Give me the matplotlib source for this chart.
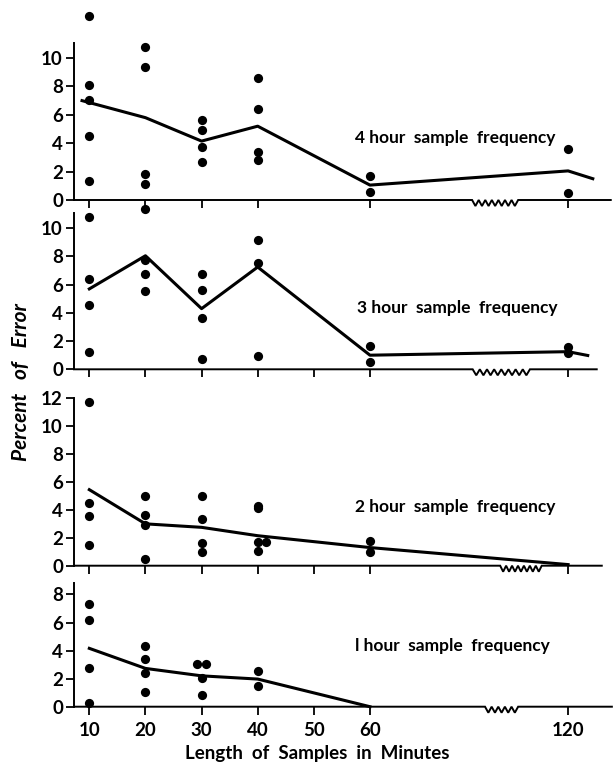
import matplotlib
matplotlib.use("Agg")
import matplotlib.pyplot as plt
import matplotlib.transforms as mtransforms
import numpy as np

plt.rcParams['font.family'] = ['Lato', 'DejaVu Sans']

# position of the 120 min column on the broken axis
POS_120 = 95.3


def to_pos(x):
    x = np.asarray(x, dtype=float)
    return np.where(x <= 60, x, POS_120 + (x - 120))


# 4 hour sample frequency
h4_x = [10, 10, 10, 10, 10, 20, 20, 20, 20, 30, 30, 30, 30, 40, 40, 40, 40, 60, 60, 120, 120]
h4_y = [12.96, 8.1, 7.05, 4.5, 1.35, 10.75, 9.35, 1.8, 1.1, 5.65, 4.95, 3.7, 2.65,
        8.6, 6.4, 3.35, 2.85, 1.7, 0.58, 3.62, 0.47]
h4_line_x = [8.7, 20, 30, 40, 60, 120, 124.4]
h4_line_y = [7.0, 5.8, 4.15, 5.2, 1.05, 2.05, 1.5]

# 3 hour sample frequency
h3_x = [10, 10, 10, 10, 20, 20, 20, 20, 30, 30, 30, 30, 40, 40, 40, 60, 60, 120, 120]
h3_y = [10.8, 6.4, 4.55, 1.2, 11.4, 7.75, 6.75, 5.55, 6.75, 5.6, 3.65, 0.75,
        9.2, 7.55, 0.97, 1.68, 0.5, 1.58, 1.15]
h3_line_x = [10, 20, 30, 40, 60, 120, 123.5]
h3_line_y = [5.7, 8.05, 4.3, 7.25, 1.0, 1.25, 0.98]

# 2 hour sample frequency
h2_x = [10, 10, 10, 10, 20, 20, 20, 20, 30, 30, 30, 30, 40, 40, 40, 40, 41.4, 60, 60]
h2_y = [11.7, 4.47, 3.56, 1.48, 5.02, 3.61, 2.92, 0.45, 5.02, 3.35, 1.65, 1.0,
        4.25, 4.15, 1.72, 1.05, 1.72, 1.79, 1.0]
h2_line_x = [10, 20, 30, 40, 60, 120]
h2_line_y = [5.45, 3.0, 2.75, 2.15, 1.3, 0.08]

# 1 hour sample frequency
h1_x = [10, 10, 10, 10, 20, 20, 20, 20, 29.2, 30.8, 30, 30, 40, 40]
h1_y = [7.31, 6.17, 2.73, 0.28, 4.32, 3.37, 2.37, 1.02, 3.02, 3.02, 2.02, 0.83, 2.57, 1.47]
h1_line_x = [10, 20, 30, 40, 60]
h1_line_y = [4.16, 2.73, 2.2, 1.97, 0.0]

labels = ["4 hour  sample  frequency", "3 hour  sample  frequency",
          "2 hour  sample  frequency", "l hour  sample  frequency"]
xticks_top = [10, 20, 30, 40, 60, 120]
xticks_all = [10, 20, 30, 40, 50, 60, 120]
xticklabels = ["10", "20", "30", "40", "50", "60", "120"]

W, H = 613, 763
fig = plt.figure(figsize=(W / 100, H / 100), dpi=100)

# panel layout in pixels: (top, bottom), y max
panels = [
    dict(px=(43, 200), ymax=11.06, yt=[0, 2, 4, 6, 8, 10], pts=(h4_x, h4_y), line=(h4_line_x, h4_line_y),
         ticks=xticks_top, brk=(78.2, 86.4, 7), end=102.9, txt=(57.3, 4.37)),
    dict(px=(213.3, 369.3), ymax=11.06, yt=[0, 2, 4, 6, 8, 10], pts=(h3_x, h3_y), line=(h3_line_x, h3_line_y),
         ticks=xticks_all, brk=(78.3, 88.5, 8), end=100.4, txt=(57.7, 4.35)),
    dict(px=(398.3, 565.7), ymax=12.0, yt=[0, 2, 4, 6, 8, 10, 12], pts=(h2_x, h2_y), line=(h2_line_x, h2_line_y),
         ticks=xticks_all, brk=(83.2, 90.6, 7), end=101.3, txt=(57.3, 4.21)),
    dict(px=(582.7, 706.7), ymax=8.84, yt=[0, 2, 4, 6, 8], pts=(h1_x, h1_y), line=(h1_line_x, h1_line_y),
         ticks=xticks_all, brk=(80.5, 86.4, 5), end=103.1, txt=(57.3, 4.33)),
]

x0, x1 = 7.27, 103.3
for i, p in enumerate(panels):
    top, bot = p["px"]
    rect = [74 / W, 1 - bot / H, (W - 74) / W, (bot - top) / H]
    ax = fig.add_axes(rect)
    ax.set_xlim(x0, x1)
    ax.set_ylim(0, p["ymax"])
    for s in ["top", "right", "bottom"]:
        ax.spines[s].set_visible(False)
    ax.spines["left"].set_linewidth(1.4)
    ax.spines["left"].set_bounds(0, p["ymax"])

    ax.scatter(to_pos(p["pts"][0]), p["pts"][1], s=44, c="k", linewidths=0, zorder=3, clip_on=False)
    ax.plot(to_pos(p["line"][0]), p["line"][1], color="k", lw=2.2, clip_on=False, zorder=2)

    # baseline with break zigzag
    trans = mtransforms.blended_transform_factory(ax.transData, ax.transAxes)
    hpx = bot - top
    b0, b1, n = p["brk"]
    zx = np.linspace(b0, b1, 2 * n + 1)
    zy = np.zeros_like(zx)
    zy[1::2] = -6 / hpx
    bx = np.concatenate([[x0], zx, [p["end"]]])
    by = np.concatenate([[0], zy, [0]])
    ax.plot(bx, by, transform=trans, color="k", lw=1.4, clip_on=False, solid_joinstyle="miter")

    ax.set_xticks(to_pos(p["ticks"]))
    ax.set_yticks(p["yt"])
    ax.tick_params(axis="both", direction="out", length=6, width=1.3, labelsize=13.5, pad=2)
    ax.tick_params(axis="x", pad=5)
    for lab in ax.get_yticklabels():
        lab.set_fontweight("bold")
    if i < 3:
        ax.tick_params(axis="x", labelbottom=False)
    else:
        ax.set_xticklabels(xticklabels, fontweight="bold")

    ax.text(p["txt"][0], p["txt"][1], labels[i], fontsize=12.5, fontweight="bold", va="center", ha="left")

fig.text(317 / W, 1 - 753 / H, "Length  of  Samples  in  Minutes", fontsize=13.5, fontweight="bold",
         ha="center", va="center")
fig.text(21 / W, 1 - 382 / H, "Percent   of   Error", fontsize=15, fontweight="bold", style="italic",
         rotation=90, ha="center", va="center")

fig.savefig("out.png", dpi=100)
